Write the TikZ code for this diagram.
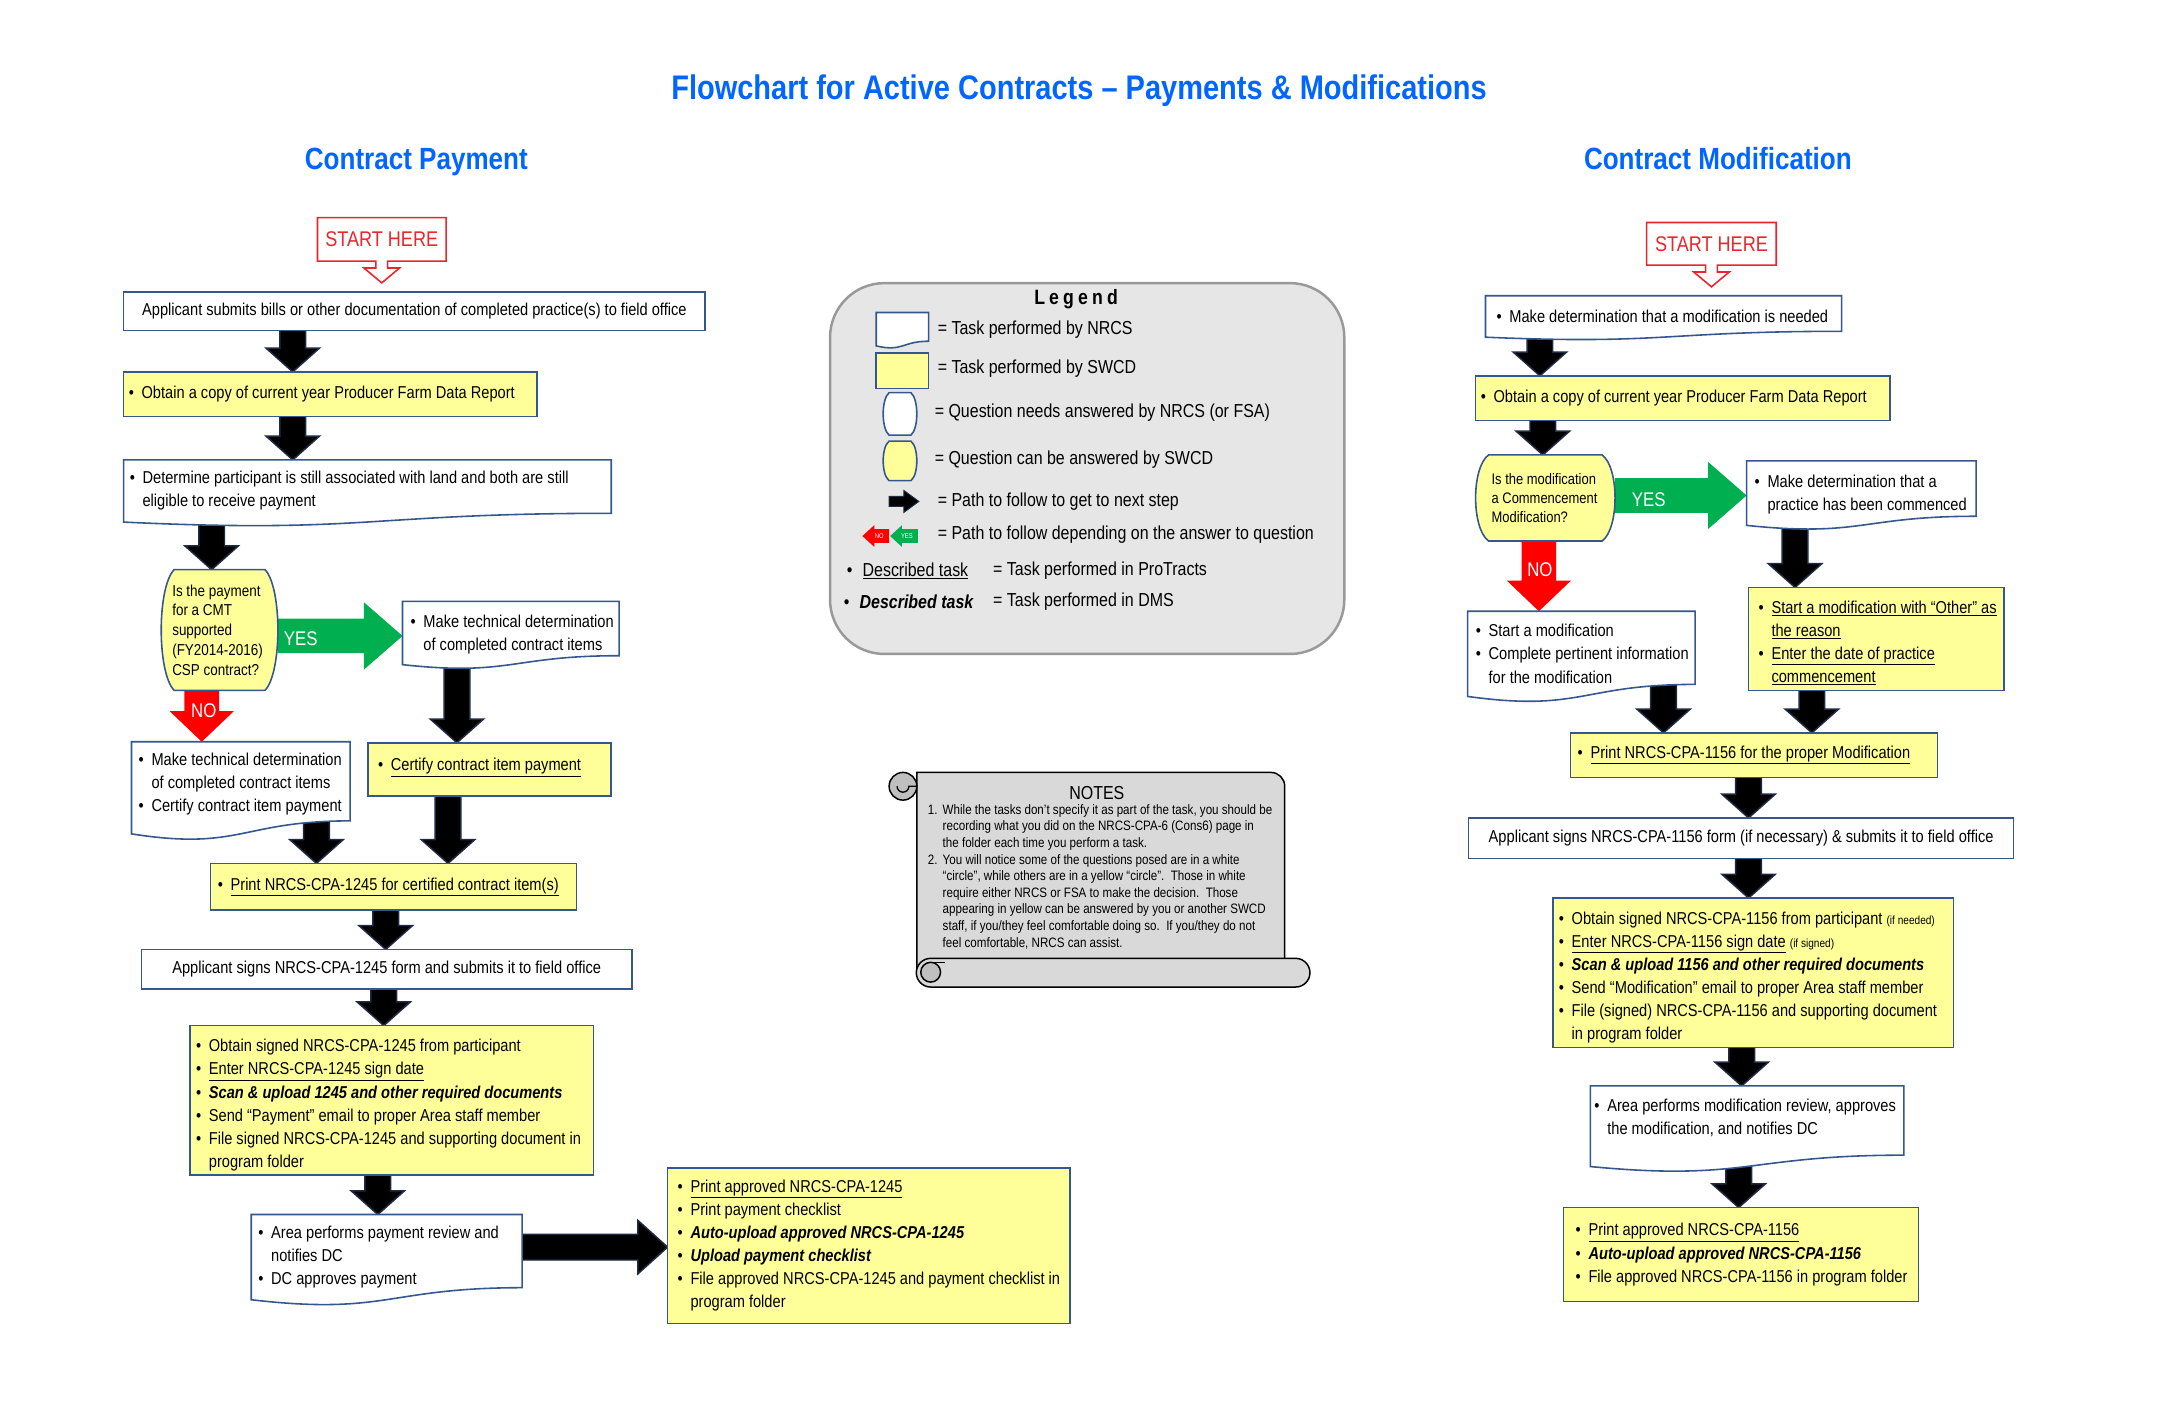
\documentclass[tikz,border=0pt]{standalone}
\usepackage{fontspec}
\setmainfont{Liberation Sans}[FakeStretch=0.85]
\usetikzlibrary{calc}
\pgfdeclarelayer{bg}
\pgfsetlayers{bg,main}
\definecolor{bxc}{HTML}{35578F}
\definecolor{ylw}{HTML}{FFFF99}
\definecolor{arwc}{HTML}{1F2A44}
\definecolor{grn}{HTML}{00B050}
\definecolor{rdc}{HTML}{FF0000}
\definecolor{ttl}{HTML}{0066FF}
\definecolor{strc}{HTML}{E8262B}
\definecolor{lgbg}{HTML}{E6E6E6}
\definecolor{ntbg}{HTML}{D9D9D9}

\newcommand\bodyf{\fontsize{17.4}{23.4}\selectfont}
\newcommand\bul{\makebox[13pt][l]{\textbullet}}
\newcommand\indt{\hspace*{13pt}}
\newcommand\bitx[1]{\textbf{\textit{#1}}}
\newcommand\smx{\fontsize{12}{14}\selectfont}

\tikzset{
 rbox/.style={draw=bxc, line width=1.6pt, fill=white, anchor=north west, inner sep=0pt, outer sep=0pt},
 ybox/.style={rbox, fill=ylw},
 dnode/.style={anchor=north west, inner sep=0pt, outer sep=0pt, draw=none},
 docline/.style={draw=bxc, line width=1.6pt},
 txt/.style={inner sep=0pt, align=left, font=\bodyf, anchor=west},
 ctxt/.style={inner sep=0pt, align=center, font=\bodyf},
 qtxt/.style={inner sep=0pt, align=left, font=\fontsize{16}{20}\selectfont, anchor=west},
 blk/.style={fill=black, draw=arwc, line width=1.5pt, line join=miter},
 gra/.style={fill=grn},
 rda/.style={fill=rdc},
 lbl/.style={inner sep=0pt, text=white, font=\fontsize{20}{22}\selectfont},
 startline/.style={draw=strc, line width=1.6pt, fill=white},
 starttxt/.style={inner sep=0pt, text=strc, font=\fontsize{21.5}{24}\selectfont},
 headtx/.style={inner sep=0pt, anchor=base, text=ttl, font=\fontsize{31}{36}\bfseries},
 ltxt/.style={inner sep=0pt, anchor=west, font=\fontsize{19}{22}\selectfont},
 ntxt/.style={inner sep=0pt, anchor=north west, align=left, font=\fontsize{13.8}{16.8}\selectfont},
 scroll/.style={draw=black, line width=1.5pt, fill=ntbg},
}

\newcommand\mkbox[6]{\node[#1, minimum width={#5-#3}, minimum height={#6-#4}] (#2) at (#3,#4) {};}

\newcommand\docshape[2]{%
 \path[docline, fill=#2] let \p1=(#1.north west), \p2=(#1.south east), \p3=(#1.north), \n1={(\y1-\y2)/0.802} in
 (\x1,\y1) -- (\x2,\y1) -- (\x2,\y2) .. controls (\x3,\y2) and (\x3,\y1-1.107*\n1) .. (\x1,\y1-0.934*\n1) -- cycle;}

\newcommand\qshape[3]{%
 \path[docline, fill=#2] let \p1=(#1.north west), \p2=(#1.south east) in
 (\x1+#3pt,\y1) -- (\x2-#3pt,\y1)
 .. controls (\x2+0.333*#3pt,\y1+0.15*\y2-0.15*\y1) and (\x2+0.333*#3pt,\y2-0.15*\y2+0.15*\y1) .. (\x2-#3pt,\y2)
 -- (\x1+#3pt,\y2)
 .. controls (\x1-0.333*#3pt,\y2-0.15*\y2+0.15*\y1) and (\x1-0.333*#3pt,\y1+0.15*\y2-0.15*\y1) .. cycle;}

\newcommand\startcallout[1]{%
 \path[startline] let \p1=(#1.north west), \p2=(#1.south east), \p3=(#1.south) in
 (\p1) -- (\x2,\y1) -- (\p2) -- (\x3+6pt,\y2) -- (\x3+6pt,\y2-7pt) -- (\x3+18pt,\y2-7pt) -- (\x3,\y2-22pt) -- (\x3-18pt,\y2-7pt) -- (\x3-6pt,\y2-7pt) -- (\x3-6pt,\y2) -- (\x1,\y2) -- cycle;}

\newcommand\varrowg[7]{%
 \begin{pgfonlayer}{bg}
 \path[#1] let \p1=(#3.south), \p2=(#4.north), \p3=(#2,0) in
 (\x3-#5pt,\y1) -- (\x3+#5pt,\y1) -- (\x3+#5pt,\y2+#7pt) -- (\x3+#6pt,\y2+#7pt) -- (\x3,\y2) -- (\x3-#6pt,\y2+#7pt) -- (\x3-#5pt,\y2+#7pt) -- cycle;
 \end{pgfonlayer}}

\newcommand\harrowg[7]{%
 \begin{pgfonlayer}{bg}
 \path[#1] let \p1=(#3.east), \p2=(#4.west), \p3=(0,#2) in
 (\x1,\y3+#5pt) -- (\x2-#7pt,\y3+#5pt) -- (\x2-#7pt,\y3+#6pt) -- (\x2,\y3) -- (\x2-#7pt,\y3-#6pt) -- (\x2-#7pt,\y3-#5pt) -- (\x1,\y3-#5pt) -- cycle;
 \end{pgfonlayer}}

\newcommand\vab[3]{\varrowg{blk}{#1}{#2}{#3}{13}{27}{24}}

\begin{document}
\begin{tikzpicture}[x=1pt,y=-1pt]
\begin{pgfonlayer}{bg}
\fill[white] (0,0) rectangle (2200.2,1423.7);
\end{pgfonlayer}
\useasboundingbox (0,0) rectangle (2200.2,1423.7);

% ---------- titles
\node[headtx, font=\fontsize{34.5}{40}\bfseries] (title) at (1091,101) {Flowchart for Active Contracts – Payments \& Modifications};
\node[headtx] (sub1) at (421,171) {Contract Payment};
\node[headtx] (sub2) at (1737,171) {Contract Modification};

% ---------- left column
\mkbox{dnode}{start1}{321}{220}{451}{264}
\startcallout{start1}
\node[starttxt] (start1t) at (start1.center) {START HERE};

\mkbox{rbox}{b1}{125}{295}{713}{334}
\node[ctxt] (b1t) at (b1.center) {Applicant submits bills or other documentation of completed practice(s) to field office};

\mkbox{ybox}{b2}{125}{376}{543}{421}
\node[txt] (b2t) at ([xshift=5pt]b2.west) {\bul Obtain a copy of current year Producer Farm Data Report};

\mkbox{dnode}{b3}{125}{465}{618}{519}
\docshape{b3}{white}
\node[txt] (b3t) at ([xshift=6pt,yshift=-4pt]b3.west) {\bul Determine participant is still associated with land and both are still\\\indt eligible to receive payment};

\mkbox{dnode}{d1}{163}{576}{281}{698}
\qshape{d1}{ylw}{13}
\node[qtxt] (d1t) at ([xshift=11pt]d1.west) {Is the payment\\for a CMT\\supported\\(FY2014-2016)\\CSP contract?};

\mkbox{dnode}{b4}{407}{608}{626}{663}
\docshape{b4}{white}
\node[txt] (b4t) at ([xshift=8pt,yshift=-6pt]b4.west) {\bul Make technical determination\\\indt of completed contract items};

\mkbox{dnode}{b5}{133}{750}{354}{830}
\docshape{b5}{white}
\node[txt] (b5t) at ([xshift=7pt,yshift=-3pt]b5.west) {\bul Make technical determination\\\indt of completed contract items\\\bul Certify contract item payment};

\mkbox{ybox}{b6}{372}{751}{618}{805}
\node[txt] (b6t) at ([xshift=10pt,yshift=2pt]b6.west) {\bul \underline{Certify contract item payment}};

\mkbox{ybox}{b7}{213}{873}{583}{920}
\node[txt] (b7t) at ([xshift=7pt]b7.west) {\bul \underline{Print NRCS-CPA-1245 for certified contract item(s)}};

\mkbox{rbox}{b8}{143}{960}{639}{1000}
\node[ctxt] (b8t) at (b8.center) {Applicant signs NRCS-CPA-1245 form and submits it to field office};

\mkbox{ybox}{b9}{192}{1037}{600}{1188}
\node[txt] (b9t) at ([xshift=6pt,yshift=-5pt]b9.west) {\bul Obtain signed NRCS-CPA-1245 from participant\\\bul \underline{Enter NRCS-CPA-1245 sign date}\\\bul \bitx{Scan \& upload 1245 and other required documents}\\\bul Send “Payment” email to proper Area staff member\\\bul File signed NRCS-CPA-1245 and supporting document in\\\indt program folder};

\mkbox{dnode}{b10}{254}{1228}{528}{1302}
\docshape{b10}{white}
\node[txt] (b10t) at ([xshift=7pt,yshift=-6pt]b10.west) {\bul Area performs payment review and\\\indt notifies DC\\\bul DC approves payment};

\mkbox{ybox}{b11}{675}{1181}{1082}{1338}
\node[txt] (b11t) at ([xshift=10pt]b11.west) {\bul \underline{Print approved NRCS-CPA-1245}\\\bul Print payment checklist\\\bul \bitx{Auto-upload approved NRCS-CPA-1245}\\\bul \bitx{Upload payment checklist}\\\bul File approved NRCS-CPA-1245 and payment checklist in\\\indt program folder};

% left arrows
\vab{296}{b1}{b2}
\vab{296}{b2}{b3}
\vab{214}{b3}{d1}
\harrowg{gra}{643}{d1}{b4}{17.5}{34}{39}
\varrowg{rda}{204}{d1}{b5}{17.5}{32.5}{31}
\node[lbl] (yes1) at (304,646) {YES};
\node[lbl] (no1) at (206,719) {NO};
\vab{462}{b4}{b6}
\vab{320}{b5}{b7}
\vab{453}{b6}{b7}
\vab{390}{b7}{b8}
\vab{388}{b8}{b9}
\vab{382}{b9}{b10}
\harrowg{blk}{1261}{b10}{b11}{13}{27}{30}

% ---------- legend
\node[draw=black!40, line width=2.5pt, fill=lgbg, rounded corners=55pt, anchor=north west, minimum width=520, minimum height=375, inner sep=0pt] (lg) at (838,285) {};
\node[inner sep=0pt, font=\fontsize{21}{24}\bfseries\addfontfeatures{LetterSpace=20}] (lgt) at (1088,302) {Legend};
\mkbox{dnode}{li1}{886}{316}{939}{345}
\docshape{li1}{white}
\mkbox{ybox}{li2}{886}{357}{939}{393}
\mkbox{dnode}{li3}{893}{397}{927}{440}
\qshape{li3}{white}{6}
\mkbox{dnode}{li4}{893}{446}{927}{486}
\qshape{li4}{ylw}{6}
\path[blk, line width=1pt] (899,502) -- (914,502) -- (914,496) -- (929,507) -- (914,518) -- (914,512) -- (899,512) -- cycle;
\fill[rdc] (872,542) -- (884,531) -- (884,535) -- (899,535) -- (899,549) -- (884,549) -- (884,553) -- cycle;
\fill[grn] (900,542) -- (912,531) -- (912,535) -- (928,535) -- (928,549) -- (912,549) -- (912,553) -- cycle;
\node[inner sep=0pt, text=white, font=\fontsize{7}{8}\selectfont] (lno) at (889,542) {NO};
\node[inner sep=0pt, text=white, font=\fontsize{7}{8}\selectfont] (lyes) at (917,542) {YES};
\node[ltxt] (lt1) at (948,333) {= Task performed by NRCS};
\node[ltxt] (lt2) at (948,373) {= Task performed by SWCD};
\node[ltxt] (lt3) at (945,417) {= Question needs answered by NRCS (or FSA)};
\node[ltxt] (lt4) at (945,465) {= Question can be answered by SWCD};
\node[ltxt] (lt5) at (948,507) {= Path to follow to get to next step};
\node[ltxt] (lt6) at (948,541) {= Path to follow depending on the answer to question};
\node[ltxt] (lt7) at (856,577) {\makebox[16pt][l]{\textbullet}\underline{Described task}};
\node[ltxt] (lt7b) at (1004,577) {= Task performed in ProTracts};
\node[ltxt] (lt8) at (853,608) {\makebox[16pt][l]{\textbullet}\bitx{Described task}};
\node[ltxt] (lt8b) at (1004,608) {= Task performed in DMS};

% ---------- notes scroll
\path[scroll] (927,983) -- (927,781) -- (1285,781) arc[start angle=-90, end angle=0, radius=14] -- (1299,983) -- cycle;
\path[scroll, fill=black!25] (913,795) circle[radius=14];
\draw[line width=1.3pt] (927,795) -- (919,795) arc[start angle=0, end angle=180, radius=6];
\path[scroll] (941,969) -- (1310,969) arc[start angle=-90, end angle=90, radius=14.5] -- (941,998) arc[start angle=90, end angle=270, radius=14.5] -- cycle;
\path[scroll, fill=black!25] (941,983) circle[radius=10];
\draw[line width=1.3pt] (941,973) -- (955,973);
\node[inner sep=0pt, font=\fontsize{19}{22}\selectfont] (nt) at (1109,802) {NOTES};
\node[ntxt] (ntx) at (938,813) {\makebox[15pt][l]{1.}While the tasks don’t specify it as part of the task, you should be\\
\hspace*{15pt}recording what you did on the NRCS-CPA-6 (Cons6) page in\\
\hspace*{15pt}the folder each time you perform a task.\\
\makebox[15pt][l]{2.}You will notice some of the questions posed are in a white\\
\hspace*{15pt}“circle”, while others are in a yellow “circle”.\ \ Those in white\\
\hspace*{15pt}require either NRCS or FSA to make the decision.\ \ Those\\
\hspace*{15pt}appearing in yellow can be answered by you or another SWCD\\
\hspace*{15pt}staff, if you/they feel comfortable doing so.\ \ If you/they do not\\
\hspace*{15pt}feel comfortable, NRCS can assist.};

% ---------- right column
\mkbox{dnode}{start2}{1665}{225}{1796}{268}
\startcallout{start2}
\node[starttxt] (start2t) at (start2.center) {START HERE};

\mkbox{dnode}{r1}{1502}{299}{1862}{335}
\docshape{r1}{white}
\node[txt] (r1t) at ([xshift=11pt,yshift=-3pt]r1.west) {\bul Make determination that a modification is needed};

\mkbox{ybox}{r2}{1492}{380}{1911}{425}
\node[txt] (r2t) at ([xshift=5pt]r2.west) {\bul Obtain a copy of current year Producer Farm Data Report};

\mkbox{dnode}{r3}{1492}{460}{1633}{547}
\qshape{r3}{ylw}{13}
\node[qtxt, font=\fontsize{15.4}{19.6}\selectfont] (r3t) at ([xshift=16pt]r3.west) {Is the modification\\a Commencement\\Modification?};

\mkbox{dnode}{r4}{1766}{466}{1998}{522}
\docshape{r4}{white}
\node[txt] (r4t) at ([xshift=8pt,yshift=-6pt]r4.west) {\bul Make determination that a\\\indt practice has been commenced};

\mkbox{dnode}{r5}{1484}{618}{1714}{692}
\docshape{r5}{white}
\node[txt] (r5t) at ([xshift=8pt,yshift=-6pt]r5.west) {\bul Start a modification\\\bul Complete pertinent information\\\indt for the modification};

\mkbox{ybox}{r6}{1768}{594}{2026}{698}
\node[txt] (r6t) at ([xshift=10pt,yshift=-4pt]r6.west) {\bul \underline{Start a modification with “Other” as}\\\indt \underline{the reason}\\\bul \underline{Enter the date of practice}\\\indt \underline{commencement}};

\mkbox{ybox}{r7}{1588}{741}{1959}{786}
\node[txt] (r7t) at ([xshift=7pt]r7.west) {\bul \underline{Print NRCS-CPA-1156 for the proper Modification}};

\mkbox{rbox}{r8}{1485}{827}{2036}{868}
\node[ctxt] (r8t) at (r8.center) {Applicant signs NRCS-CPA-1156 form (if necessary) \& submits it to field office};

\mkbox{ybox}{r9}{1570}{908}{1975}{1059}
\node[txt] (r9t) at ([xshift=6pt,yshift=-5pt]r9.west) {\bul Obtain signed NRCS-CPA-1156 from participant {\smx (if needed)}\\\bul \underline{Enter NRCS-CPA-1156 sign date} {\smx (if signed)}\\\bul \bitx{Scan \& upload 1156 and other required documents}\\\bul Send “Modification” email to proper Area staff member\\\bul File (signed) NRCS-CPA-1156 and supporting document\\\indt in program folder};

\mkbox{dnode}{r10}{1608}{1098}{1925}{1168}
\docshape{r10}{white}
\node[txt] (r10t) at ([xshift=4pt,yshift=3pt]r10.west) {\bul Area performs modification review, approves\\\indt the modification, and notifies DC};

\mkbox{ybox}{r11}{1581}{1221}{1940}{1316}
\node[txt] (r11t) at ([xshift=12pt]r11.west) {\bul \underline{Print approved NRCS-CPA-1156}\\\bul \bitx{Auto-upload approved NRCS-CPA-1156}\\\bul File approved NRCS-CPA-1156 in program folder};

% right arrows
\vab{1557}{r1}{r2}
\vab{1560}{r2}{r3}
\harrowg{gra}{501}{r3}{r4}{17.5}{34}{39}
\varrowg{rda}{1556}{r3}{r5}{17.5}{32.5}{31}
\node[lbl] (yes2) at (1667,505) {YES};
\node[lbl] (no2) at (1557,576) {NO};
\vab{1815}{r4}{r6}
\vab{1682}{r5}{r7}
\vab{1832}{r6}{r7}
\vab{1768}{r7}{r8}
\vab{1768}{r8}{r9}
\vab{1761}{r9}{r10}
\vab{1758}{r10}{r11}
\end{tikzpicture}
\end{document}
